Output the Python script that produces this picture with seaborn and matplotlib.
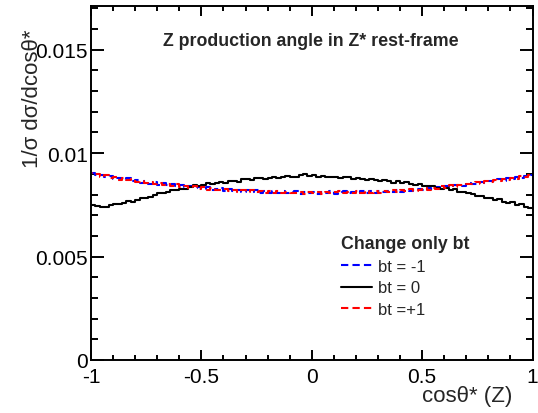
import numpy as np
import pandas as pd
import matplotlib
matplotlib.use("Agg")
import matplotlib.pyplot as plt
import seaborn as sns
from matplotlib.ticker import MultipleLocator, FixedLocator, FixedFormatter
from matplotlib.lines import Line2D

# ---------------- data ----------------
x_range = (-1.0, 1.0)
n_bins = 100

bt_minus1 = [
    0.00906, 0.00893, 0.00895, 0.00884, 0.00888, 0.00877, 0.00881, 0.00870, 0.00878, 0.00865,
    0.00869, 0.00858, 0.00866, 0.00853, 0.00861, 0.00848, 0.00856, 0.00844, 0.00852, 0.00840,
    0.00845, 0.00835, 0.00840, 0.00830, 0.00838, 0.00826, 0.00834, 0.00823, 0.00827, 0.00830,
    0.00818, 0.00826, 0.00815, 0.00823, 0.00813, 0.00822, 0.00811, 0.00820, 0.00809, 0.00818,
    0.00808, 0.00817, 0.00806, 0.00815, 0.00805, 0.00814, 0.00816, 0.00804, 0.00813, 0.00806,
    0.00813, 0.00803, 0.00814, 0.00805, 0.00815, 0.00804, 0.00812, 0.00816, 0.00805, 0.00814,
    0.00806, 0.00815, 0.00807, 0.00817, 0.00808, 0.00818, 0.00810, 0.00819, 0.00811, 0.00821,
    0.00814, 0.00824, 0.00816, 0.00827, 0.00829, 0.00820, 0.00832, 0.00828, 0.00838, 0.00830,
    0.00841, 0.00837, 0.00846, 0.00844, 0.00842, 0.00854, 0.00851, 0.00849, 0.00861, 0.00858,
    0.00866, 0.00864, 0.00875, 0.00867, 0.00879, 0.00876, 0.00886, 0.00878, 0.00890, 0.00896,
]

bt_zero = [
    0.00748, 0.00744, 0.00738, 0.00741, 0.00751, 0.00756, 0.00753, 0.00758, 0.00770, 0.00766,
    0.00772, 0.00784, 0.00781, 0.00790, 0.00797, 0.00808, 0.00806, 0.00812, 0.00824, 0.00821,
    0.00829, 0.00826, 0.00838, 0.00846, 0.00842, 0.00845, 0.00856, 0.00851, 0.00854, 0.00862,
    0.00858, 0.00864, 0.00866, 0.00862, 0.00873, 0.00876, 0.00870, 0.00878, 0.00880, 0.00876,
    0.00881, 0.00886, 0.00879, 0.00884, 0.00889, 0.00886, 0.00884, 0.00893, 0.00897, 0.00890,
    0.00892, 0.00887, 0.00889, 0.00883, 0.00887, 0.00884, 0.00878, 0.00883, 0.00886, 0.00877,
    0.00879, 0.00876, 0.00868, 0.00875, 0.00871, 0.00865, 0.00869, 0.00863, 0.00858, 0.00866,
    0.00856, 0.00859, 0.00851, 0.00846, 0.00850, 0.00843, 0.00839, 0.00841, 0.00833, 0.00829,
    0.00830, 0.00821, 0.00825, 0.00814, 0.00811, 0.00806, 0.00803, 0.00793, 0.00795, 0.00785,
    0.00781, 0.00772, 0.00776, 0.00763, 0.00757, 0.00762, 0.00750, 0.00752, 0.00742, 0.00737,
]

bt_plus1 = [
    0.00902, 0.00897, 0.00887, 0.00892, 0.00878, 0.00885, 0.00872, 0.00879, 0.00868, 0.00873,
    0.00860, 0.00867, 0.00855, 0.00862, 0.00850, 0.00858, 0.00846, 0.00853, 0.00842, 0.00849,
    0.00836, 0.00843, 0.00831, 0.00839, 0.00827, 0.00835, 0.00824, 0.00832, 0.00822, 0.00820,
    0.00827, 0.00816, 0.00824, 0.00814, 0.00821, 0.00812, 0.00820, 0.00810, 0.00819, 0.00809,
    0.00816, 0.00807, 0.00815, 0.00806, 0.00814, 0.00805, 0.00807, 0.00814, 0.00804, 0.00813,
    0.00805, 0.00813, 0.00804, 0.00814, 0.00806, 0.00813, 0.00815, 0.00805, 0.00814, 0.00806,
    0.00815, 0.00806, 0.00816, 0.00808, 0.00817, 0.00809, 0.00818, 0.00810, 0.00820, 0.00813,
    0.00822, 0.00815, 0.00825, 0.00818, 0.00821, 0.00830, 0.00823, 0.00833, 0.00829, 0.00839,
    0.00833, 0.00845, 0.00838, 0.00848, 0.00845, 0.00852, 0.00849, 0.00859, 0.00853, 0.00863,
    0.00861, 0.00869, 0.00866, 0.00876, 0.00871, 0.00881, 0.00877, 0.00888, 0.00883, 0.00894,
]

series_labels = ["bt = -1", "bt = 0", "bt =+1"]
legend_header = "Change only bt"
title_text = "Z production angle in Z* rest-frame"
x_label = "cosθ* (Z)"
y_label = "1/σ dσ/dcosθ*"
x_ticks = [-1, -0.5, 0, 0.5, 1]
x_tick_labels = ["-1", "-0.5", "0", "0.5", "1"]
y_ticks = [0, 0.005, 0.01, 0.015]
y_tick_labels = ["0", "0.005", "0.01", "0.015"]
y_max = 0.0171

# ---------------- style ----------------
sns.set_style("ticks")
plt.rcParams["font.family"] = ["Liberation Sans", "DejaVu Sans"]
plt.rcParams["axes.unicode_minus"] = False

W, H = 538, 414
fig = plt.figure(figsize=(W / 100, H / 100), dpi=100)
ax_left, ax_right, ax_top, ax_bottom = 91, 532.5, 7.3, 361
ax = fig.add_axes([ax_left / W, 1 - ax_bottom / H,
                   (ax_right - ax_left) / W, (ax_bottom - ax_top) / H])

bin_width = (x_range[1] - x_range[0]) / n_bins
centers = x_range[0] + bin_width * (np.arange(n_bins) + 0.5)

df = pd.DataFrame({
    "cos": np.tile(centers, 3),
    "w": bt_minus1 + bt_zero + bt_plus1,
    "series": np.repeat(series_labels, n_bins),
})

lw = 1.5
dash = (3.5, 2)
styles = {
    "bt = -1": dict(color="#0000ff", linestyle=(0, dash)),
    "bt = 0": dict(color="black", linestyle="-"),
    "bt =+1": dict(color="#ff0000", linestyle=(2.75, dash)),
}
for lab in series_labels:
    sub = df[df["series"] == lab]
    sns.histplot(data=sub, x="cos", weights="w", bins=n_bins, binrange=x_range,
                 element="step", fill=False, ax=ax, linewidth=lw, **styles[lab])

ax.set_xlim(*x_range)
ax.set_ylim(0, y_max)

ax.xaxis.set_major_locator(FixedLocator(x_ticks))
ax.xaxis.set_major_formatter(FixedFormatter(x_tick_labels))
ax.xaxis.set_minor_locator(MultipleLocator(0.1))
ax.yaxis.set_major_locator(FixedLocator(y_ticks))
ax.yaxis.set_major_formatter(FixedFormatter(y_tick_labels))
ax.yaxis.set_minor_locator(MultipleLocator(0.001))

for s in ax.spines.values():
    s.set_visible(True)
    s.set_linewidth(1.4)
    s.set_color("black")

ax.tick_params(axis="both", which="both", direction="in", top=True, right=True,
               width=1.4, color="black", labelsize=15, labelcolor="black")
ax.tick_params(axis="x", which="major", length=7.2, pad=5)
ax.tick_params(axis="x", which="minor", length=3.6)
ax.tick_params(axis="y", which="major", length=9.4, pad=2.5)
ax.tick_params(axis="y", which="minor", length=4.7)

ax.set_xlabel(x_label, fontsize=16, ha="right", va="center")
ax.xaxis.set_label_coords((512 - ax_left) / (ax_right - ax_left),
                          (ax_bottom - 397) / (ax_bottom - ax_top))
ax.set_ylabel(y_label, fontsize=16, ha="right", va="center")
ax.yaxis.set_label_coords((33 - ax_left) / (ax_right - ax_left),
                          (ax_bottom - 30) / (ax_bottom - ax_top))

ax.text(0.4977, (ax_bottom - 42) / (ax_bottom - ax_top), title_text,
        transform=ax.transAxes, ha="center", va="center",
        fontsize=12.8, fontweight="bold")

legend_styles = {
    "bt = -1": dict(color="#0000ff", linestyle=(0, dash)),
    "bt = 0": dict(color="black", linestyle="-"),
    "bt =+1": dict(color="#ff0000", linestyle=(0, dash)),
}
handles = [Line2D([0], [0], linewidth=lw, **legend_styles[lab]) for lab in series_labels]
leg = ax.legend(handles, series_labels, title=legend_header, loc="upper left",
                bbox_to_anchor=(341 / W, 1 - 236 / H), bbox_transform=fig.transFigure,
                frameon=False, fontsize=12, handlelength=1.85, handletextpad=0.4,
                labelspacing=0.4, borderpad=0, borderaxespad=0, alignment="left")
leg.get_title().set_fontweight("bold")
leg.get_title().set_fontsize(12.8)

fig.savefig("out.png", dpi=100)
